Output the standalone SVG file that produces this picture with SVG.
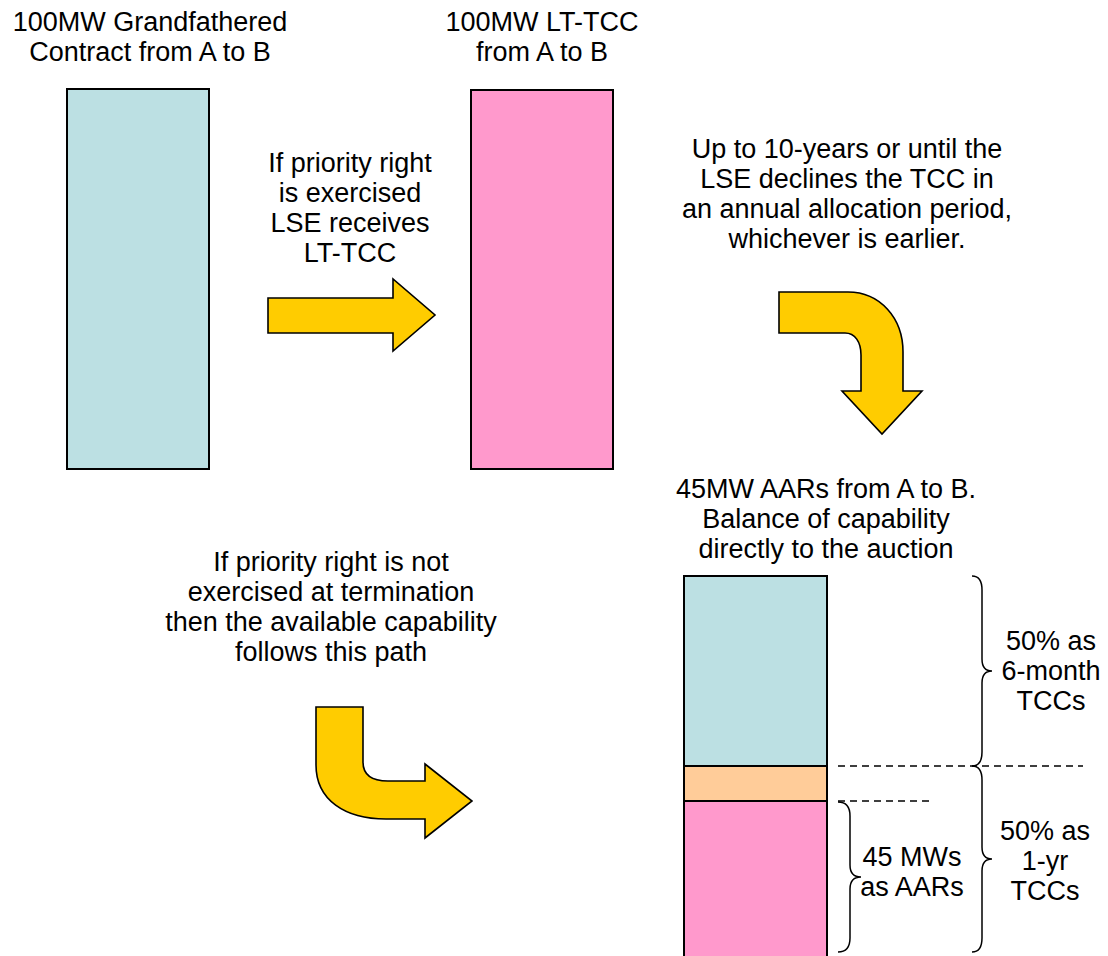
<svg xmlns="http://www.w3.org/2000/svg" width="1108" height="956" viewBox="0 0 1108 956">
<style>
text{font-family:"Liberation Sans",Arial,sans-serif;font-size:27px;fill:#000;text-anchor:middle}
.bar{stroke:#000;stroke-width:2}
.teal{fill:#BCE0E3}
.pink{fill:#FF99CC}
.orange{fill:#FFCC99}
.arrow{fill:#FFCC00;stroke:#000;stroke-width:1.6;stroke-linejoin:miter}
.dash{stroke:#000;stroke-width:1.5;stroke-dasharray:7,5;fill:none}
.brace{fill:none;stroke:#000;stroke-width:1.5}
</style>
<rect width="1108" height="956" fill="#fff"/>
<g id="grandfathered">
<text x="150" y="31">100MW Grandfathered</text>
<text x="150" y="61">Contract from A to B</text>
<rect class="bar teal" x="67" y="89" width="142" height="380"/>
</g>
<g id="lttcc">
<text x="542" y="31">100MW LT-TCC</text>
<text x="542" y="61">from A to B</text>
<rect class="bar pink" x="471" y="90" width="142" height="379"/>
</g>
<g id="aars">
<text x="826" y="498">45MW AARs from A to B.</text>
<text x="826" y="528">Balance of capability</text>
<text x="826" y="558">directly to the auction</text>
<rect class="bar teal" x="684" y="576" width="143" height="190"/>
<rect class="bar orange" x="684" y="766" width="143" height="35"/>
<rect class="bar pink" x="684" y="801" width="143" height="157"/>
</g>
<g id="connectors">
<g id="arrow-exercised">
<path class="arrow" d="M268,298 L393,298 L393,279 L435,315 L393,351 L393,333 L268,333 Z"/>
<text x="350" y="172">If priority right</text>
<text x="350" y="202">is exercised</text>
<text x="350" y="232">LSE receives</text>
<text x="350" y="262">LT-TCC</text>
</g>
<g id="arrow-decline">
<path class="arrow" d="M779,292 L848,292 C880,292 903,318 903,352 L903,391 L922,391 L882,434 L842,391 L861,391 L861,355 C861,342 855,333 845,333 L779,333 Z"/>
<text x="847" y="158">Up to 10-years or until the</text>
<text x="847" y="188">LSE declines the TCC in</text>
<text x="847" y="218">an annual allocation period,</text>
<text x="847" y="248">whichever is earlier.</text>
</g>
<g id="arrow-not-exercised">
<path class="arrow" d="M316,707 L363,707 L363,762 C363,774 370,781 388,781 L425,781 L425,764 L472,801 L425,838 L425,819 L386,819 C345,819 316,800 316,765 Z"/>
<text x="331" y="571">If priority right is not</text>
<text x="331" y="601">exercised at termination</text>
<text x="331" y="631">then the available capability</text>
<text x="331" y="661">follows this path</text>
</g>
<line class="dash" x1="838" y1="766" x2="1083" y2="766"/>
<line class="dash" x1="838" y1="801" x2="930" y2="801"/>
</g>
<g id="brace-6month">
<path class="brace" d="M972,576 Q982,576 982,590 L982,659 Q982,671 992,671 Q982,671 982,683 L982,752 Q982,766 972,766"/>
<text x="1051" y="650">50% as</text>
<text x="1051" y="680">6-month</text>
<text x="1051" y="710">TCCs</text>
</g>
<g id="brace-1yr">
<path class="brace" d="M972,766 Q982,766 982,780 L982,847 Q982,859 992,859 Q982,859 982,871 L982,938 Q982,952 972,952"/>
<text x="1045" y="840">50% as</text>
<text x="1045" y="870">1-yr</text>
<text x="1045" y="900">TCCs</text>
</g>
<g id="brace-aars">
<path class="brace" d="M838,802 Q850,802 850,816 L850,865 Q850,877 861,877 Q850,877 850,889 L850,938 Q850,952 838,952"/>
<text x="912" y="866">45 MWs</text>
<text x="912" y="896">as AARs</text>
</g>
</svg>
